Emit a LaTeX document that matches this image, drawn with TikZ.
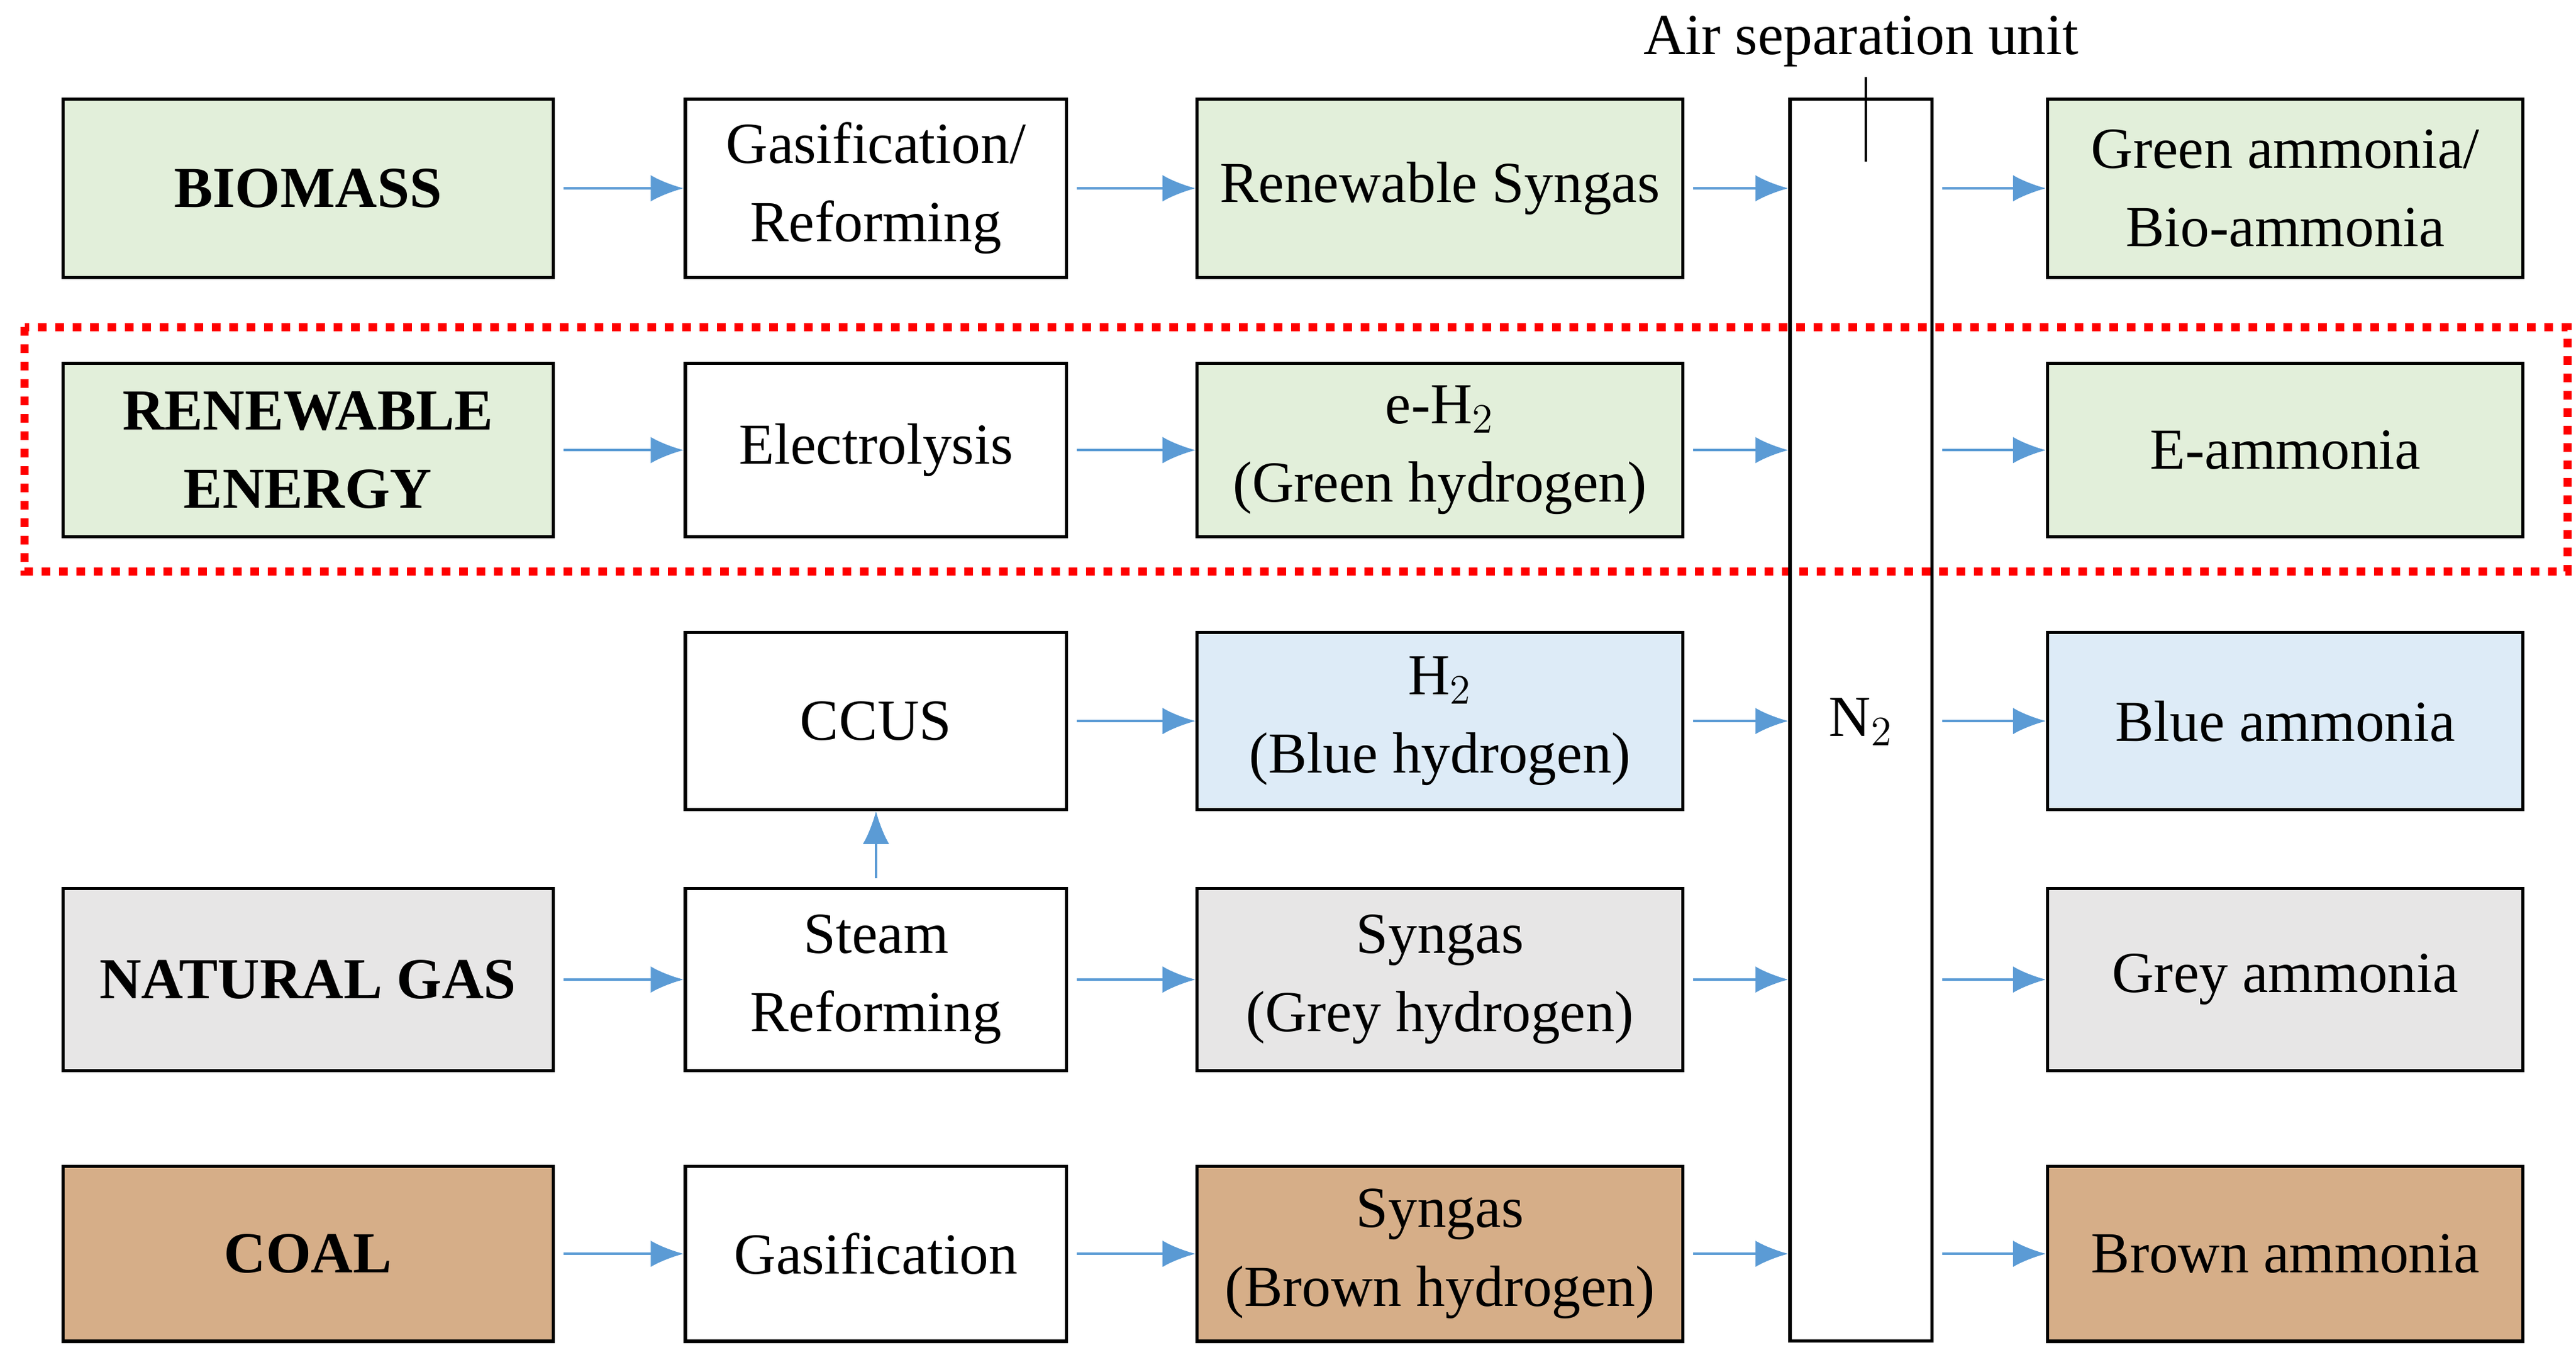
\documentclass[tikz,border=0pt]{standalone}
\usepackage{fontspec}
\setmainfont{Liberation Serif}
\usetikzlibrary{arrows.meta}
\definecolor{bgreen}{HTML}{E2EFDA}
\definecolor{bblue}{HTML}{DDEBF7}
\definecolor{bgrey}{HTML}{E7E6E6}
\definecolor{bbrown}{HTML}{D6AE88}
\definecolor{arr}{HTML}{5B9BD5}
\begin{document}
\begin{tikzpicture}[x=0.02cm,y=-0.02cm,
  box/.style={draw, line width=1.1pt, align=center, inner sep=0pt,
    font=\fontsize{20}{27}\selectfont},
  c1/.style={box, minimum width=5.94cm, font=\fontsize{20}{27}\selectfont\bfseries},
  c2/.style={box, minimum width=4.62cm},
  c3/.style={box, minimum width=5.88cm},
  c4/.style={box, minimum width=5.76cm},
  h1/.style={minimum height=2.16cm},
  h2/.style={minimum height=2.10cm},
  h3/.style={minimum height=2.14cm},
  h4/.style={minimum height=2.20cm},
  h5/.style={minimum height=2.12cm},
  flow/.style={draw=arr, line width=0.9pt, -{Latex[length=0.4cm,width=0.32cm]}, shorten <=3pt}]
\useasboundingbox (0,0) rectangle (1560,820);
% red dotted frame
\draw[red, line width=2.8pt, dash pattern=on 3pt off 3pt] (15,198) rectangle (1555,346);
% column 1
\node[c1,h1,fill=bgreen] (bio) at (186.5,114) {BIOMASS};
\node[c1,h2,fill=bgreen] (ren) at (186.5,272.5) {RENEWABLE\\ENERGY};
\node[c1,h4,fill=bgrey] (gas) at (186.5,593) {NATURAL GAS};
\node[c1,h5,fill=bbrown] (coal) at (186.5,759) {COAL};
% column 2
\node[c2,h1] (gasref) at (530.5,114) {Gasification/\\Reforming};
\node[c2,h2] (elec) at (530.5,272.5) {Electrolysis};
\node[c2,h3] (ccus) at (530.5,436.5) {CCUS};
\node[c2,h4] (steam) at (530.5,593) {Steam\\Reforming};
\node[c2,h5] (gasif) at (530.5,759) {Gasification};
% column 3
\node[c3,h1,fill=bgreen] (rsyn) at (872,114) {Renewable Syngas};
\node[c3,h2,fill=bgreen] (eh) at (872,272.5) {e-H$_2$\\(Green hydrogen)};
\node[c3,h3,fill=bblue] (bh) at (872,436.5) {H$_2$\\(Blue hydrogen)};
\node[c3,h4,fill=bgrey] (gsyn) at (872,593) {Syngas\\(Grey hydrogen)};
\node[c3,h5,fill=bbrown] (bsyn) at (872,759) {Syngas\\(Brown hydrogen)};
% air separation unit
\node[box, minimum width=1.72cm, minimum height=15.04cm] (asu) at (1127,436) {};
\node[font=\fontsize{20}{27}\selectfont] (n2) at (1127,437) {N$_2$};
\node[font=\fontsize{20}{27}\selectfont] (asul) at (1127,25) {Air separation unit};
\coordinate (asutick) at (1130,98);
\draw[line width=0.8pt] (asul.south -| asutick) -- (asutick);
% column 4
\node[c4,h1,fill=bgreen] (ga) at (1384,114) {Green ammonia/\\Bio-ammonia};
\node[c4,h2,fill=bgreen] (ea) at (1384,272.5) {E-ammonia};
\node[c4,h3,fill=bblue] (ba) at (1384,436.5) {Blue ammonia};
\node[c4,h4,fill=bgrey] (gra) at (1384,593) {Grey ammonia};
\node[c4,h5,fill=bbrown] (bra) at (1384,759) {Brown ammonia};
% arrows
\draw[flow] (bio) -- (gasref);
\draw[flow] (ren) -- (elec);
\draw[flow] (gas) -- (steam);
\draw[flow] (coal) -- (gasif);
\draw[flow] (gasref) -- (rsyn);
\draw[flow] (elec) -- (eh);
\draw[flow] (ccus) -- (bh);
\draw[flow] (steam) -- (gsyn);
\draw[flow] (gasif) -- (bsyn);
\draw[flow] (steam) -- (ccus);
\foreach \s/\t in {rsyn/ga, eh/ea, bh/ba, gsyn/gra, bsyn/bra}{
  \draw[flow] (\s.east) -- (\s.east -| asu.west);
  \draw[flow] (\s.east -| asu.east) -- (\t.west);
}
\end{tikzpicture}
\end{document}
